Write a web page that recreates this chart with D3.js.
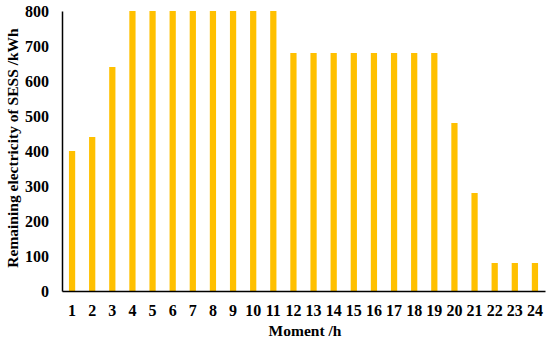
<!DOCTYPE html>
<html>
<head>
<meta charset="utf-8">
<script src="https://cdn.jsdelivr.net/npm/d3@7"></script>
<style>
  body { margin: 0; background: #fff; }
  text { font-family: "Liberation Serif", "Times New Roman", serif; font-weight: bold; }
</style>
</head>
<body>
<div id="chart"></div>
<script>
// hours and remaining SESS electricity (kWh)
var hours = d3.range(1, 25);
var remaining = [400, 440, 640, 800, 800, 800, 800, 800, 800, 800, 800,
                 680, 680, 680, 680, 680, 680, 680, 680, 480, 280, 80, 80, 80];
var yTicks = [0, 100, 200, 300, 400, 500, 600, 700, 800];

var W = 550, H = 346;
var margin = { top: 11, right: 5, bottom: 55, left: 62 };
var width = W - margin.left - margin.right,
    height = H - margin.top - margin.bottom;

var svg = d3.select("#chart").append("svg")
    .attr("width", W)
    .attr("height", H);

var g = svg.append("g")
    .attr("transform", "translate(" + margin.left + "," + margin.top + ")");

var x = d3.scaleBand()
    .domain(hours)
    .range([0, width])
    .paddingInner(0.69)
    .paddingOuter(0.345);

var y = d3.scaleLinear()
    .domain([0, 800])
    .range([height, 0]);

// bars
g.selectAll("rect")
    .data(remaining)
    .enter().append("rect")
    .attr("x", (d, i) => x(hours[i]))
    .attr("y", d => y(d))
    .attr("width", x.bandwidth())
    .attr("height", d => height - y(d))
    .attr("fill", "#FFC000");

// y axis
var yAxis = g.append("g")
    .call(d3.axisLeft(y).tickValues(yTicks).tickSize(0).tickPadding(13));
yAxis.select(".domain").attr("stroke", "#000").attr("stroke-width", 1.5);
yAxis.selectAll("text").attr("font-size", "16px").attr("fill", "#000");

// x axis
var xAxis = g.append("g")
    .attr("transform", "translate(0," + height + ")")
    .call(d3.axisBottom(x).tickSize(0).tickPadding(14));
xAxis.select(".domain").attr("stroke", "#000").attr("stroke-width", 1.5);
xAxis.selectAll("text").attr("font-size", "16px").attr("fill", "#000");

// axis titles
svg.append("text")
    .attr("x", 305)
    .attr("y", 336)
    .attr("text-anchor", "middle")
    .attr("font-size", "15.5px")
    .text("Moment /h");

svg.append("text")
    .attr("transform", "translate(18,148) rotate(-90)")
    .attr("text-anchor", "middle")
    .attr("font-size", "15.5px")
    .text("Remaining electricity of SESS /kWh");
</script>
</body>
</html>
